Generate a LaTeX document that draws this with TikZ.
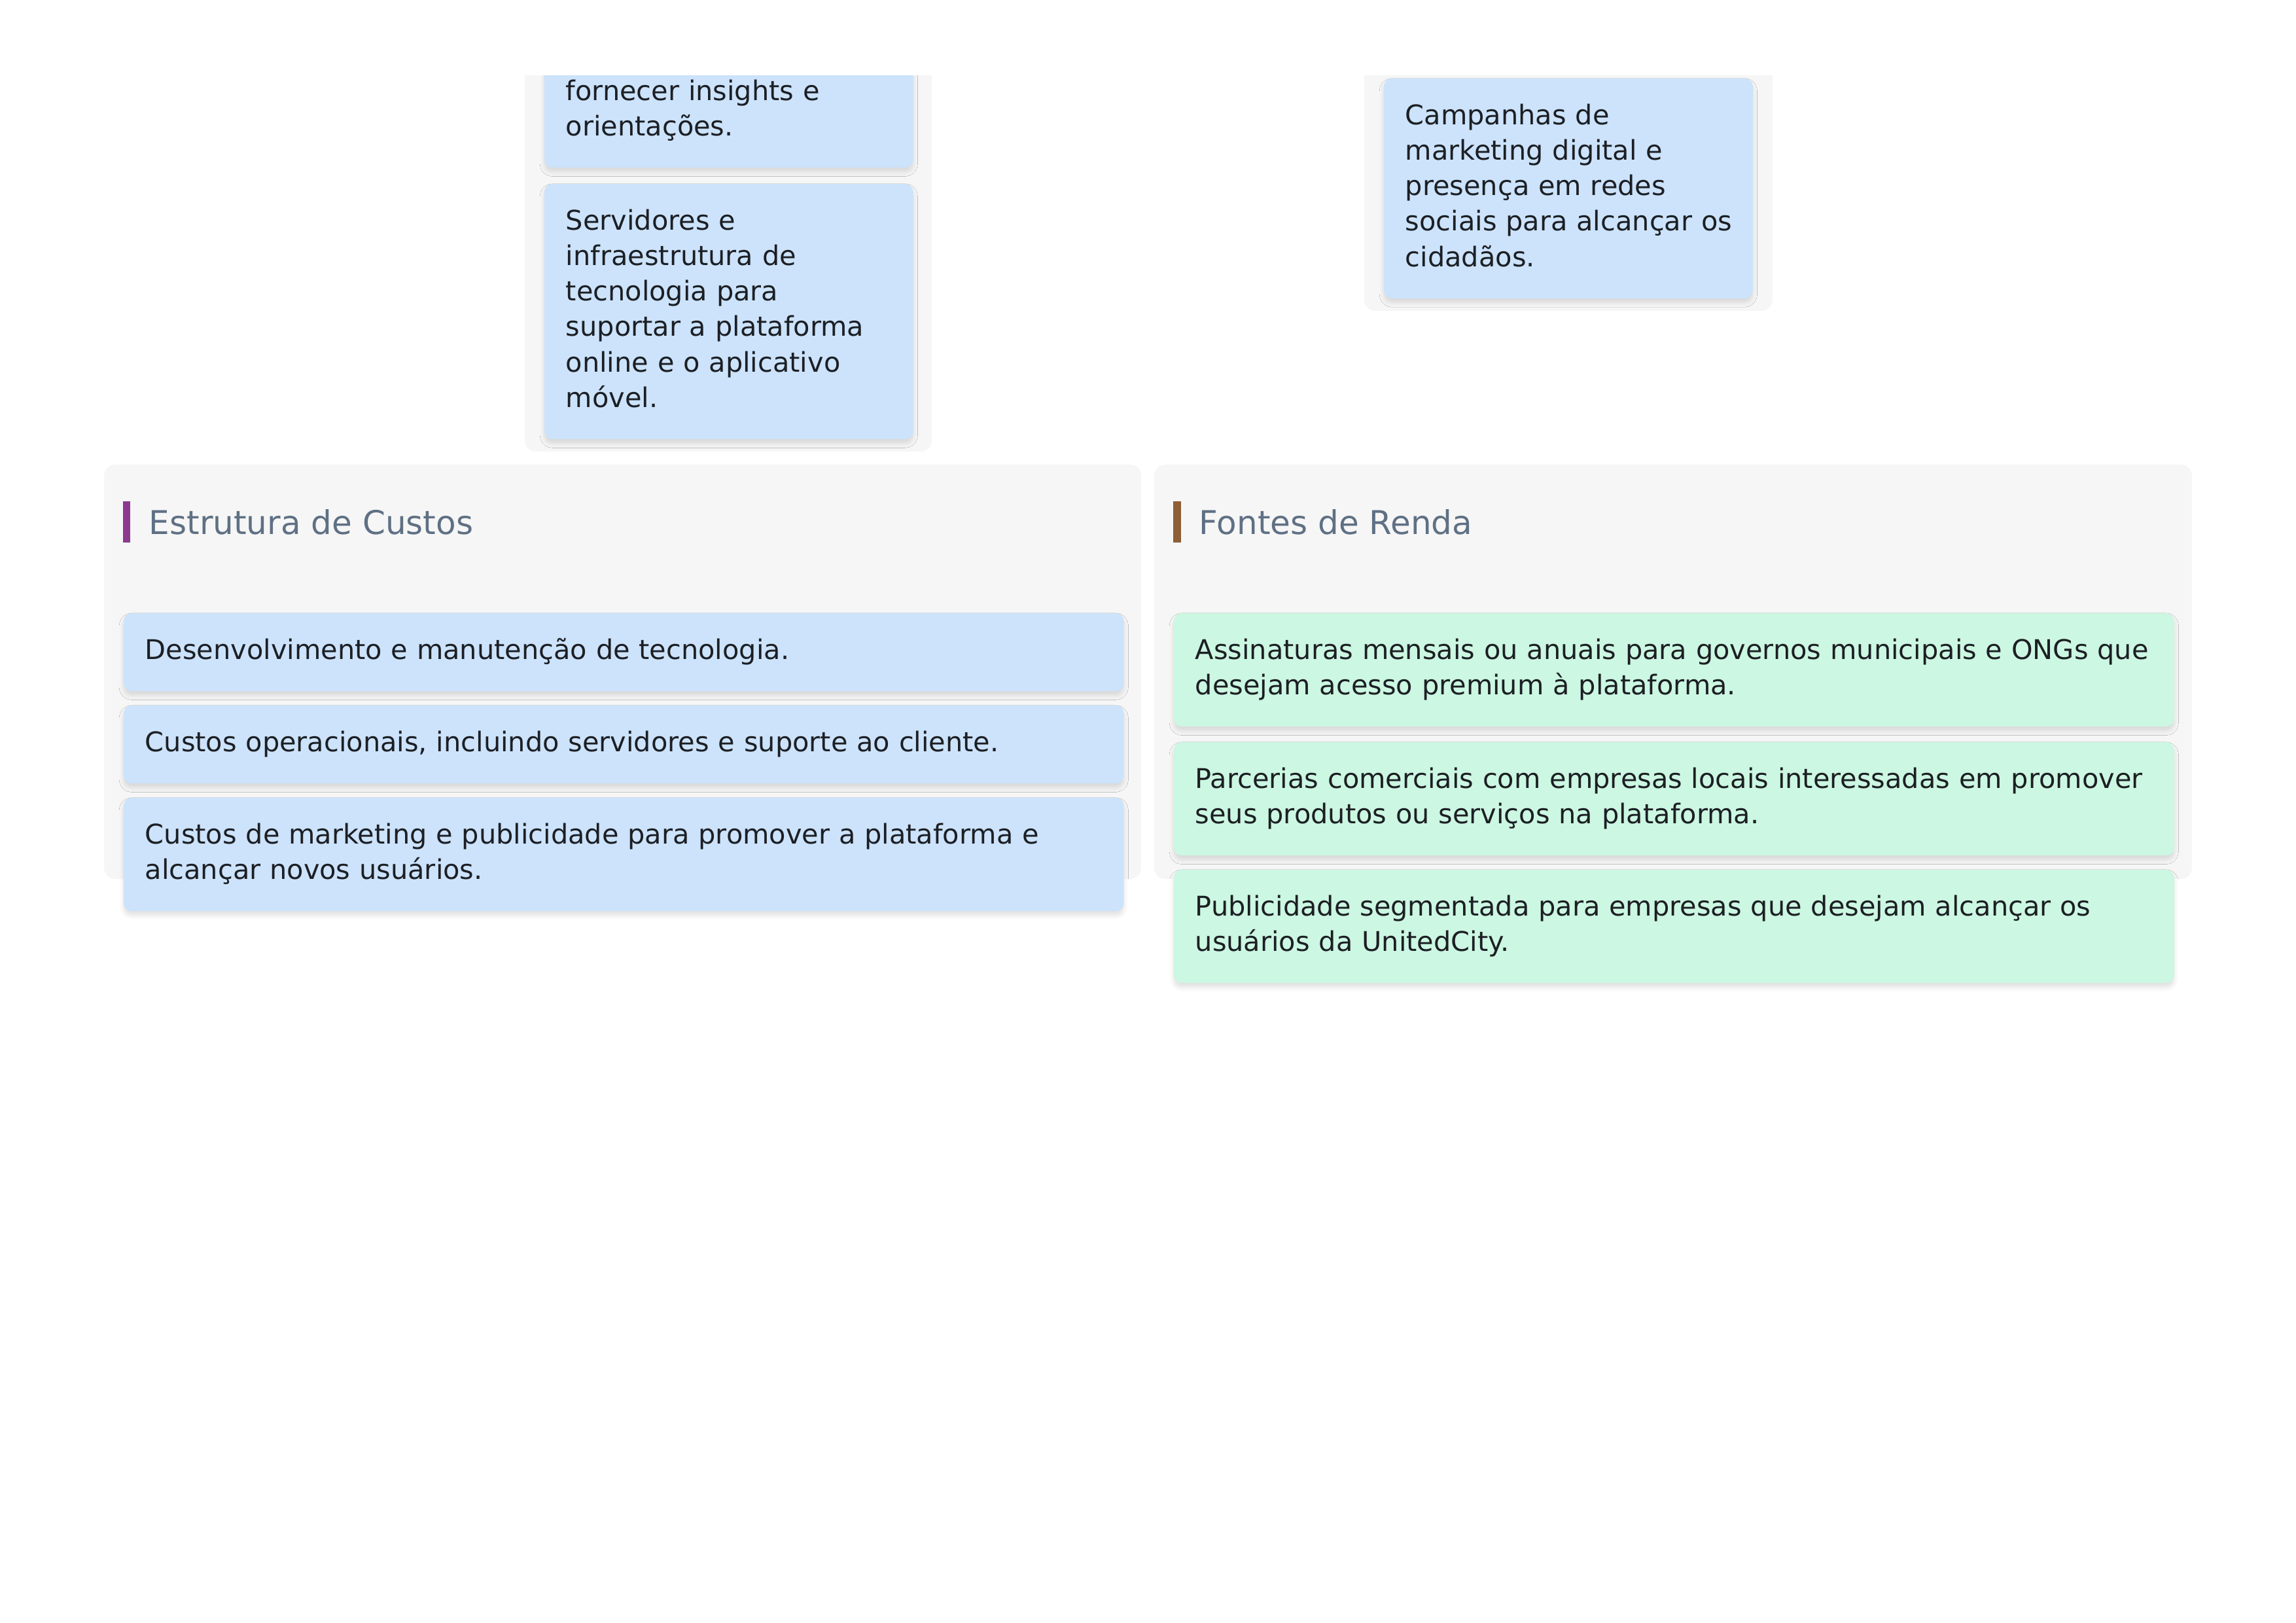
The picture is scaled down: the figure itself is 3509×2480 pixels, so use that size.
\documentclass[tikz,border=0pt]{standalone}
\usepackage{fontspec}
\setmainfont{DejaVu Sans}
\usetikzlibrary{shadows.blur}
\definecolor{contbg}{HTML}{F6F6F6}
\definecolor{cardblue}{HTML}{CCE3FB}
\definecolor{cardgreen}{HTML}{CCF7E2}
\definecolor{textdark}{HTML}{1C1F24}
\definecolor{titlecol}{HTML}{5F7084}
\definecolor{accpurple}{HTML}{8B3A8E}
\definecolor{accbrown}{HTML}{8E5E36}
\tikzset{
  container/.style={fill=contbg, rounded corners=4pt},
  card/.style={rounded corners=3pt, inner xsep=7.9pt, inner ysep=7.8pt, align=left,
    font=\fontsize{9.95}{13}\selectfont, text=textdark,
    execute at begin node=\strut, execute at end node=\strut,
    blur shadow={shadow blur steps=6, shadow xshift=0pt, shadow yshift=-1.6pt,
      shadow blur radius=1.6pt, shadow blur extra rounding=1pt, shadow opacity=12}},
  widecard/.style={card, text width=351pt},
  narrowcard/.style={card, text width=119.5pt},
  bluecard/.style={fill=cardblue},
  greencard/.style={fill=cardgreen},
  sectitle/.style={anchor=base west, inner sep=0pt, font=\fontsize{12}{14}\selectfont, text=titlecol},
}
\begin{document}
\begin{tikzpicture}[x=0.23992pt, y=-0.23992pt]
\useasboundingbox (0,0) rectangle (3509,2480);
\begin{scope}
\clip (0,116) rectangle (3509,2480);
% top-left container (partially visible)
\path[container] (802,40) rectangle (1424,690);
\node[narrowcard, bluecard, anchor=south west] (insights) at (831,257)
  {fornecer insights e\\orientações.};
\node[narrowcard, bluecard, anchor=north west] (servidores) at (831,280)
  {Servidores e\\infraestrutura de\\tecnologia para\\\mbox{suportar a plataforma}\\\mbox{online e o aplicativo}\\móvel.};
% top-right container (partially visible)
\path[container] (2085,40) rectangle (2709,475);
\node[narrowcard, bluecard, anchor=north west] (campanhas) at (2114,119)
  {Campanhas de\\marketing digital e\\presença em redes\\\mbox{sociais para alcançar os}\\cidadãos.};
\end{scope}
% Estrutura de Custos
\path[container] (159,710) rectangle (1744,1343);
\fill[accpurple] (188,766) rectangle (199,829);
\node[sectitle] (custos) at (227,817) {Estrutura de Custos};
\node[widecard, bluecard, anchor=north west] (c1) at (188,936)
  {Desenvolvimento e manutenção de tecnologia.};
\node[widecard, bluecard, anchor=north west] (c2) at (188,1077)
  {Custos operacionais, incluindo servidores e suporte ao cliente.};
\node[widecard, bluecard, anchor=north west] (c3) at (188,1218)
  {\mbox{Custos de marketing e publicidade para promover a plataforma e}\\alcançar novos usuários.};
% Fontes de Renda
\path[container] (1764,710) rectangle (3350,1343);
\fill[accbrown] (1793,766) rectangle (1805,829);
\node[sectitle] (renda) at (1832,817) {Fontes de Renda};
\node[widecard, greencard, anchor=north west] (r1) at (1793,936)
  {\mbox{Assinaturas mensais ou anuais para governos municipais e ONGs que}\\desejam acesso premium à plataforma.};
\node[widecard, greencard, anchor=north west] (r2) at (1793,1133)
  {\mbox{Parcerias comerciais com empresas locais interessadas em promover}\\seus produtos ou serviços na plataforma.};
\node[widecard, greencard, anchor=north west] (r3) at (1793,1328)
  {\mbox{Publicidade segmentada para empresas que desejam alcançar os}\\usuários da UnitedCity.};
\end{tikzpicture}
\end{document}
